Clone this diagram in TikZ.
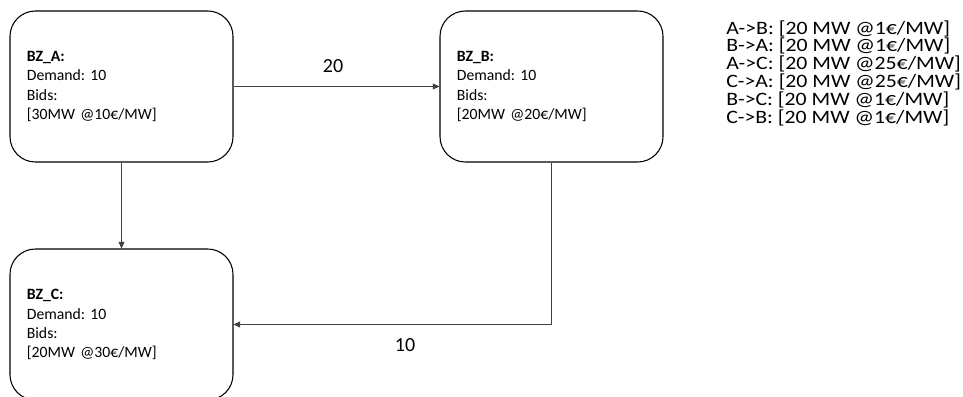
\documentclass[tikz,border=0pt]{standalone}
\usepackage{fontspec}
\setmainfont{Carlito}
\newfontfamily\listfont[FakeStretch=1.15]{Carlito}
\usetikzlibrary{arrows.meta}
\begin{document}
\frenchspacing
\begin{tikzpicture}[x=0.75pt,y=-0.75pt,
  zone/.style={draw=black,line width=0.8pt,rounded corners=19pt,
    minimum width=167.25pt,minimum height=113.25pt,
    text width=142pt,align=left,inner xsep=12.6pt,
    font=\fontsize{11.8}{14.3}\selectfont},
  flow/.style={draw=black!75,line width=0.6pt,-{Triangle[length=5pt,width=4.5pt]}},
  lbl/.style={font=\fontsize{15}{18}\selectfont,inner sep=0pt},
  list/.style={align=left,inner sep=0pt,anchor=base west,
    font=\listfont\fontsize{14.2}{13.35}\selectfont}]
\useasboundingbox (0,0) rectangle (963,396);
\node[zone] (A) at (121.5,86.5) {\textbf{BZ\_A:}\\Demand: 10\\Bids:\\{[30MW @10€/MW]}};
\node[zone] (B) at (551.5,86.5) {\textbf{BZ\_B:}\\Demand: 10\\Bids:\\{[20MW @20€/MW]}};
\node[zone] (C) at (121.5,324.5) {\textbf{BZ\_C:}\\Demand: 10\\Bids:\\{[20MW @30€/MW]}};
\draw[flow] (A) -- (B);
\draw[flow] (A) -- (C);
\coordinate (bend) at (B.south |- C.east);
\draw[flow] (B.south) -- (bend) -- (C.east);
\node[lbl] (l20) at (333,66) {20};
\node[lbl] (l10) at (405,345) {10};
\node[list] (costs) at (726,123) {A->B: [20 MW @1€/MW]\\B->A: [20 MW @1€/MW]\\A->C: [20 MW @25€/MW]\\C->A: [20 MW @25€/MW]\\B->C: [20 MW @1€/MW]\\C->B: [20 MW @1€/MW]};
\end{tikzpicture}
\end{document}
